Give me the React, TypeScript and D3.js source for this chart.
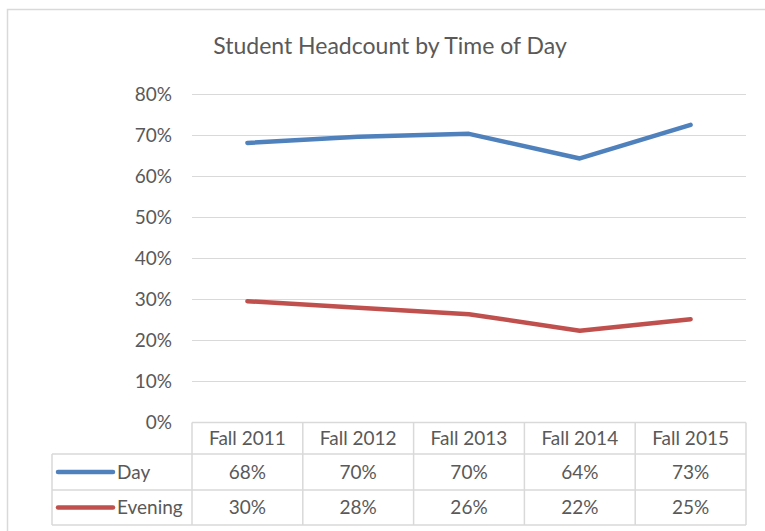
import React, { useMemo } from 'react';
import * as d3 from 'd3';

const categories = ['Fall 2011', 'Fall 2012', 'Fall 2013', 'Fall 2014', 'Fall 2015'];
const dayValues = [0.682, 0.697, 0.704, 0.644, 0.726];
const eveningValues = [0.296, 0.28, 0.264, 0.224, 0.252];
const yTicks = [0, 0.1, 0.2, 0.3, 0.4, 0.5, 0.6, 0.7, 0.8];
const seriesNames = ['Day', 'Evening'];
const title = 'Student Headcount by Time of Day';

const W = 765;
const H = 531;
const FONT = 'Lato, "Open Sans", sans-serif';
const TEXT = '#595959';
const GRID = '#d9d9d9';
const COLORS = ['#4f81bd', '#c0504d'];
const FS = 19;

const App = () => {
  const plot = { left: 192, right: 746, top: 94.5, bottom: 422.5 };
  const rowH = [31.5, 36, 35]; // header, Day, Evening rows
  const tableLeft = 52;

  const { x, y } = useMemo(() => {
    const xScale = d3.scaleBand<string>()
      .domain(categories)
      .range([plot.left, plot.right]);
    const yScale = d3.scaleLinear()
      .domain([0, 0.8])
      .range([plot.bottom, plot.top]);
    return { x: xScale, y: yScale };
  }, []);

  const fmt = d3.format('.0%');
  const line = d3.line<number>()
    .x((_, i) => x(categories[i])! + x.bandwidth() / 2)
    .y(d => y(d));

  const series = [dayValues, eveningValues];
  const rowTops = [plot.bottom, plot.bottom + rowH[0], plot.bottom + rowH[0] + rowH[1]];
  const tableBottom = rowTops[2] + rowH[2];

  return (
    <svg width={W} height={H} style={{ position: 'absolute', left: 0, top: 0, background: '#fff' }}>
      <rect x={7.5} y={9.5} width={W + 10} height={H + 10} fill="#fff" stroke={GRID} strokeWidth={1.5} />

      <text x={390} y={54} textAnchor="middle" fontFamily={FONT} fontSize={23} fill={TEXT}>{title}</text>

      {/* gridlines and y labels */}
      {yTicks.map(t => (
        <g key={t}>
          {t > 0 && <line x1={plot.left} x2={plot.right} y1={y(t)} y2={y(t)} stroke={GRID} strokeWidth={1} />}
          <text x={172} y={y(t)} dy="0.35em" textAnchor="end" fontFamily={FONT} fontSize={FS} fill={TEXT}>{fmt(t)}</text>
        </g>
      ))}

      {/* lines */}
      {series.map((s, i) => (
        <path key={i} d={line(s) || ''} fill="none" stroke={COLORS[i]} strokeWidth={4.5}
          strokeLinecap="round" strokeLinejoin="round" />
      ))}

      {/* data table */}
      <g stroke={GRID} strokeWidth={1.5} fill="none">
        <line x1={plot.left} x2={plot.right} y1={plot.bottom} y2={plot.bottom} />
        <line x1={tableLeft} x2={plot.right} y1={rowTops[1]} y2={rowTops[1]} />
        <line x1={tableLeft} x2={plot.right} y1={rowTops[2]} y2={rowTops[2]} />
        <line x1={tableLeft} x2={plot.right} y1={tableBottom} y2={tableBottom} />
        <line x1={tableLeft} x2={tableLeft} y1={rowTops[1]} y2={tableBottom} />
        {categories.map(c => (
          <line key={c} x1={x(c)!} x2={x(c)!} y1={plot.bottom} y2={tableBottom} />
        ))}
        <line x1={plot.right} x2={plot.right} y1={plot.bottom} y2={tableBottom} />
      </g>

      {categories.map(c => (
        <text key={c} x={x(c)! + x.bandwidth() / 2} y={rowTops[0] + rowH[0] / 2} dy="0.35em"
          textAnchor="middle" fontFamily={FONT} fontSize={FS} fill={TEXT}>{c}</text>
      ))}

      {series.map((s, i) => {
        const cy = rowTops[i + 1] + rowH[i + 1] / 2;
        return (
          <g key={i}>
            <line x1={58} x2={113} y1={cy} y2={cy} stroke={COLORS[i]} strokeWidth={4.5} strokeLinecap="round" />
            <text x={117} y={cy} dy="0.35em" fontFamily={FONT} fontSize={FS} fill={TEXT}>{seriesNames[i]}</text>
            {s.map((v, j) => (
              <text key={j} x={x(categories[j])! + x.bandwidth() / 2} y={cy} dy="0.35em"
                textAnchor="middle" fontFamily={FONT} fontSize={FS} fill={TEXT}>{fmt(v)}</text>
            ))}
          </g>
        );
      })}
    </svg>
  );
};

export default App;
